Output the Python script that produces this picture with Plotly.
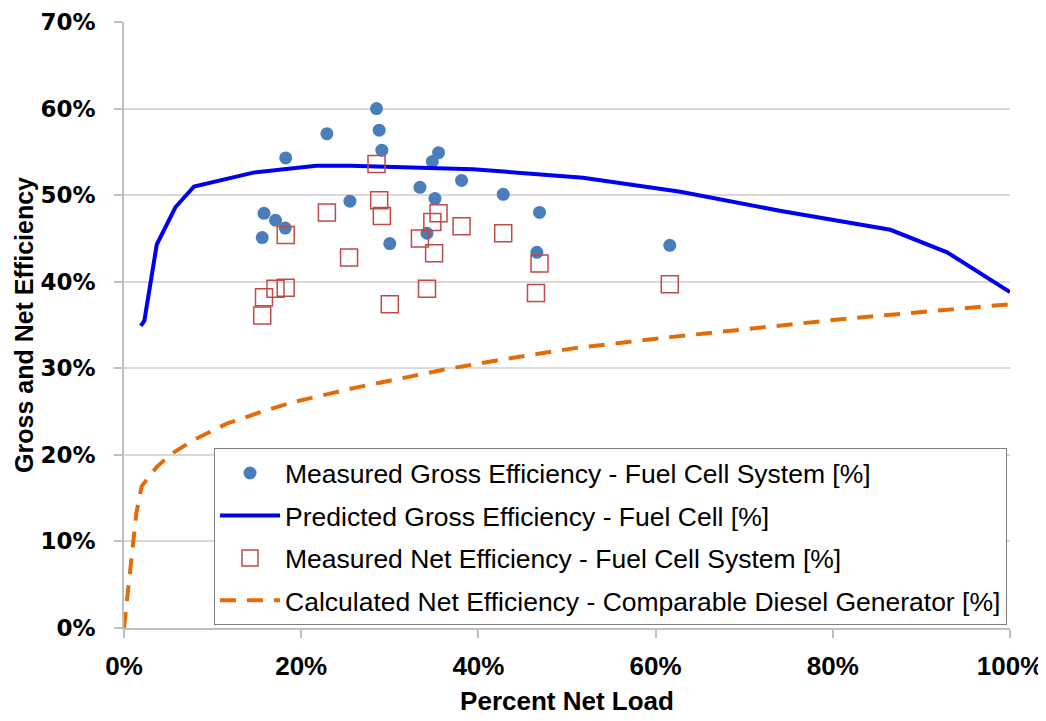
import plotly.graph_objects as go

# Measured gross efficiency (fuel cell system) - blue dots
gross_x = [15.6, 15.8, 17.1, 18.2, 18.25, 22.9, 25.5, 28.5, 28.8, 29.1, 30.0, 33.4, 34.2,
           34.8, 35.1, 35.5, 38.1, 42.8, 46.6, 46.9, 61.6]
gross_y = [45.1, 47.9, 47.1, 46.2, 54.3, 57.1, 49.3, 60.0, 57.5, 55.2, 44.4, 50.9, 45.6,
           53.9, 49.6, 54.9, 51.7, 50.1, 43.4, 48.0, 44.2]

# Measured net efficiency (fuel cell system) - open red squares
net_x = [15.6, 15.8, 17.1, 18.25, 18.25, 22.9, 25.4, 28.5, 28.8, 29.1, 30.0, 33.4, 34.2,
         34.8, 35.0, 35.5, 38.1, 42.8, 46.5, 46.9, 61.6]
net_y = [36.1, 38.2, 39.2, 39.3, 45.4, 48.0, 42.8, 53.6, 49.4, 47.6, 37.4, 45.0, 39.2,
         46.9, 43.3, 47.9, 46.4, 45.6, 38.7, 42.1, 39.7]

# Predicted gross efficiency - fuel cell (solid blue line)
pred_x = [1.9, 2.3, 3.7, 5.8, 7.9, 14.6, 21.7, 25.5, 39.4, 51.8, 62.8, 74.0, 86.5, 92.9, 100.0]
pred_y = [34.9, 35.5, 44.3, 48.6, 51.0, 52.6, 53.4, 53.4, 53.0, 52.0, 50.4, 48.2, 46.0, 43.4, 38.8]

# Calculated net efficiency - comparable diesel generator (dashed orange line)
diesel_x = [0.0, 0.7, 1.4, 2.0, 3.7, 5.2, 7.8, 11.6, 15.3, 19.1, 26.3, 36.4, 43.2, 50.7,
            61.6, 81.2, 100.0]
diesel_y = [0.0, 7.1, 13.3, 16.4, 18.6, 20.0, 21.7, 23.6, 24.9, 26.1, 27.8, 29.9, 31.1,
            32.3, 33.6, 35.7, 37.4]

x_ticks = [0, 20, 40, 60, 80, 100]
y_ticks = [0, 10, 20, 30, 40, 50, 60, 70]

def frac(v):
    return [a / 100.0 for a in v]

sans = "Liberation Sans, Arial, sans-serif"

fig = go.Figure()
fig.add_trace(go.Scatter(
    x=frac(gross_x), y=frac(gross_y), mode="markers",
    name="Measured Gross Efficiency - Fuel Cell System [%]",
    marker=dict(symbol="circle", size=13, color="#4A7EBB"),
    legendgroup="g1"))
fig.add_trace(go.Scatter(
    x=frac(pred_x), y=frac(pred_y), mode="lines",
    name="Predicted Gross Efficiency - Fuel Cell [%]",
    line=dict(color="#0000F0", width=4),
    legendgroup="g2"))
fig.add_trace(go.Scatter(
    x=frac(net_x), y=frac(net_y), mode="markers",
    name="Measured Net Efficiency - Fuel Cell System [%]",
    marker=dict(symbol="square-open", size=17, color="#BE4B48", line=dict(width=1.5)),
    legendgroup="g3"))
fig.add_trace(go.Scatter(
    x=frac(diesel_x), y=frac(diesel_y), mode="lines",
    name="Calculated Net Efficiency - Comparable Diesel Generator [%]",
    line=dict(color="#E36C09", width=4, dash="16px,11px"),
    legendgroup="g4"))

# page body has an 8px margin, so the figure is sized/offset to compensate
fig.update_layout(
    width=1038, height=713,
    margin=dict(l=116, r=36, t=14, b=93),
    paper_bgcolor="white", plot_bgcolor="white",
    showlegend=True,
    legend=dict(
        x=0.1016, y=0.2966, xanchor="left", yanchor="top",
        bgcolor="white", bordercolor="#7F7F7F", borderwidth=1,
        font=dict(family=sans, size=26.5, color="#000000"),
        traceorder="grouped", tracegroupgap=5,
        itemwidth=60,
    ),
    xaxis=dict(
        range=[0, 1.0], tickvals=[v / 100 for v in x_ticks],
        ticktext=[f"<b>{v}%</b>" for v in x_ticks],
        showgrid=False, zeroline=False, automargin=False,
        showline=True, linecolor="#BFBFBF", linewidth=1.5,
        ticks="outside", ticklen=8, tickcolor="#BFBFBF", tickwidth=1.5,
        ticklabelstandoff=6,
        tickfont=dict(family=sans, size=26, color="#000000"),
        title=dict(text="<b>Percent Net Load</b>",
                   font=dict(family=sans, size=26, color="#000000"), standoff=12),
    ),
    yaxis=dict(
        range=[0, 0.7], tickvals=[v / 100 for v in y_ticks],
        ticktext=[f"<b>{v}%</b>" for v in y_ticks],
        showgrid=True, gridcolor="#D9D9D9", gridwidth=1.5, zeroline=False,
        automargin=False,
        showline=True, linecolor="#BFBFBF", linewidth=1.5,
        ticks="outside", ticklen=8, tickcolor="#BFBFBF", tickwidth=1.5,
        ticklabelstandoff=14,
        tickfont=dict(family="DejaVu Sans", size=23, color="#000000"),
        title=dict(text="<b>Gross and Net Efficiency</b>",
                   font=dict(family=sans, size=25, color="#000000"), standoff=0),
    ),
)

fig.write_html("out.html")
